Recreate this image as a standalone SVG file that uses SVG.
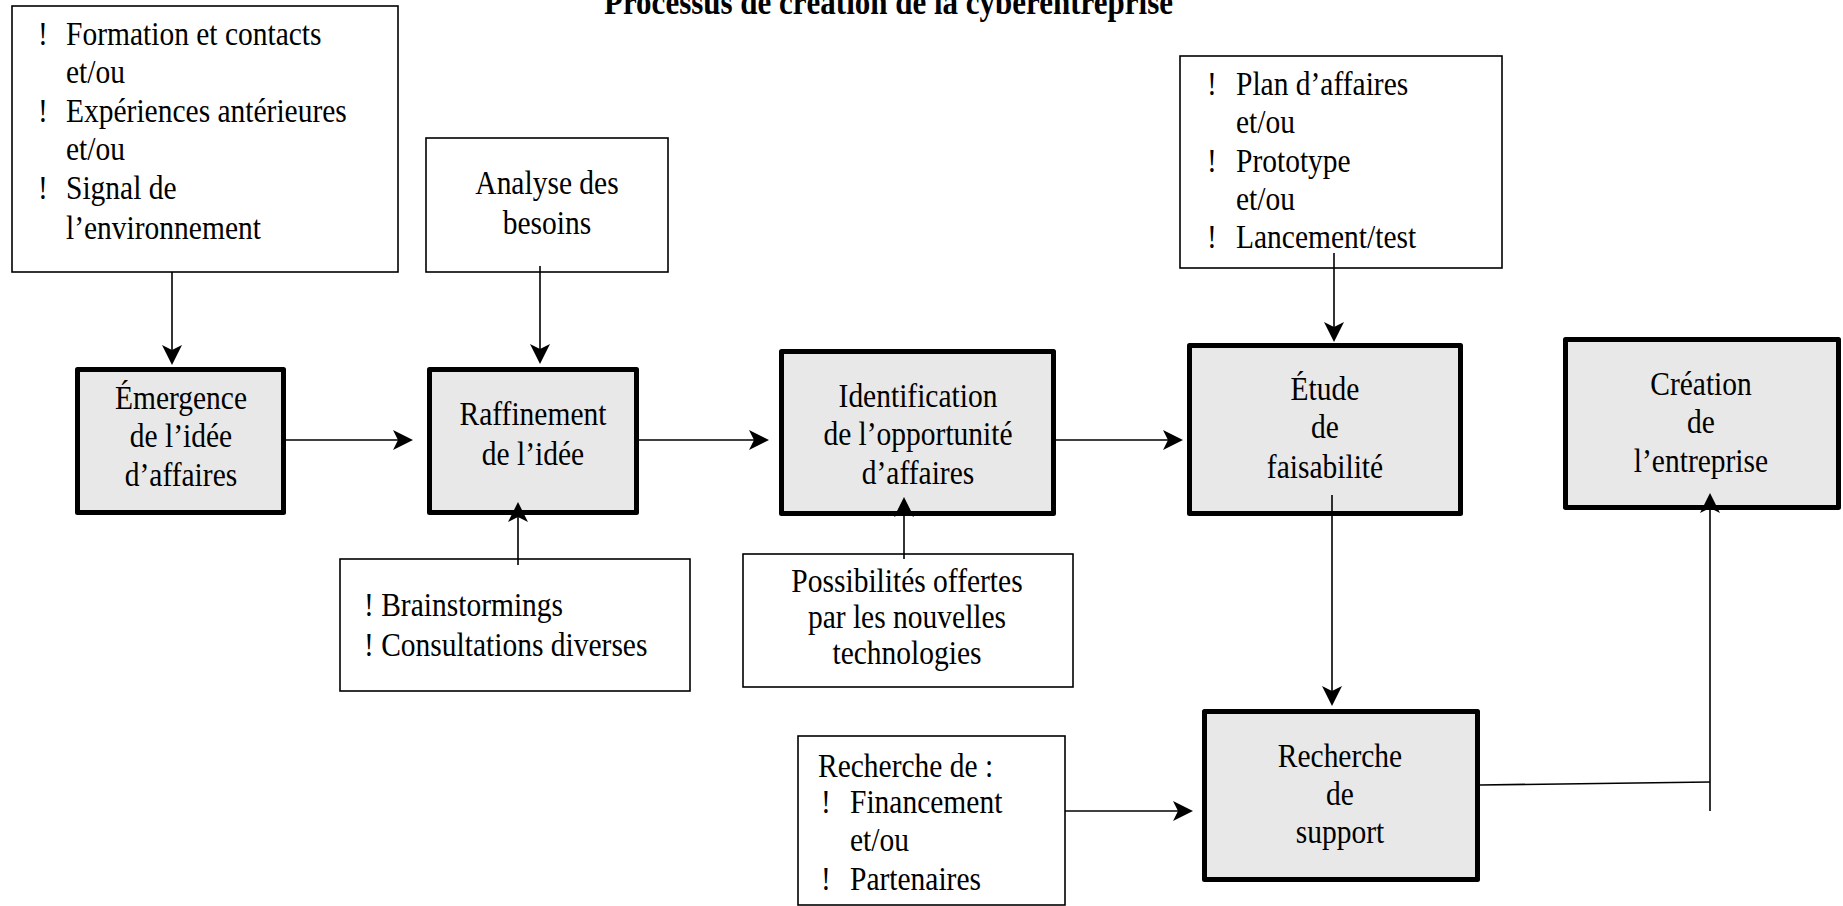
<svg xmlns="http://www.w3.org/2000/svg" width="1843" height="906" viewBox="0 0 1843 906">
<style>
.t{font-family:"Liberation Serif","Times New Roman",serif;font-size:29.5px;fill:#000}
.c{text-anchor:middle}
.title{font-weight:bold;font-size:31px}
.note{fill:#fff;stroke:#000;stroke-width:1.6}
.step{fill:#e8e8e8;stroke:#000;stroke-width:5;stroke-linejoin:round}
.conn{stroke:#000;stroke-width:1.6;fill:none}
.arr{marker-end:url(#ah)}
</style>
<defs>
<marker id="ah" markerWidth="20" markerHeight="20" viewBox="0 0 20 20" refX="17" refY="10" orient="auto" markerUnits="userSpaceOnUse">
<path d="M0,0 L20,10 L0,20 L5,10 Z" fill="#000"/>
</marker>
</defs>
<rect width="1843" height="906" fill="#fff"/>
<text class="t title" x="604" transform="translate(0 14) scale(1 1.14)">Processus de création de la cyberentreprise</text>

<g id="sources">
<rect class="note" x="12" y="6" width="386" height="266"/>
<text class="t" x="38" transform="translate(0 45) scale(1 1.14)">!</text><text class="t" x="66" transform="translate(0 45) scale(1 1.14)">Formation et contacts</text>
<text class="t" x="66" transform="translate(0 83) scale(1 1.14)">et/ou</text>
<text class="t" x="38" transform="translate(0 122) scale(1 1.14)">!</text><text class="t" x="66" transform="translate(0 122) scale(1 1.14)">Expériences antérieures</text>
<text class="t" x="66" transform="translate(0 160) scale(1 1.14)">et/ou</text>
<text class="t" x="38" transform="translate(0 199) scale(1 1.14)">!</text><text class="t" x="66" transform="translate(0 199) scale(1 1.14)">Signal de</text>
<text class="t" x="66" transform="translate(0 239) scale(1 1.14)">l’environnement</text>
</g>

<g id="analyse">
<rect class="note" x="426" y="138" width="242" height="134"/>
<text class="t c" x="547" transform="translate(0 194) scale(1 1.14)">Analyse des</text>
<text class="t c" x="547" transform="translate(0 234) scale(1 1.14)">besoins</text>
</g>

<g id="plan">
<rect class="note" x="1180" y="56" width="322" height="212"/>
<text class="t" x="1207" transform="translate(0 95) scale(1 1.14)">!</text><text class="t" x="1236" transform="translate(0 95) scale(1 1.14)">Plan d’affaires</text>
<text class="t" x="1236" transform="translate(0 133) scale(1 1.14)">et/ou</text>
<text class="t" x="1207" transform="translate(0 172) scale(1 1.14)">!</text><text class="t" x="1236" transform="translate(0 172) scale(1 1.14)">Prototype</text>
<text class="t" x="1236" transform="translate(0 210) scale(1 1.14)">et/ou</text>
<text class="t" x="1207" transform="translate(0 248) scale(1 1.14)">!</text><text class="t" x="1236" transform="translate(0 248) scale(1 1.14)">Lancement/test</text>
</g>

<g id="emergence">
<rect class="step" x="77.5" y="369.5" width="206" height="143"/>
<text class="t c" x="181" transform="translate(0 409) scale(1 1.14)">Émergence</text>
<text class="t c" x="181" transform="translate(0 447) scale(1 1.14)">de l’idée</text>
<text class="t c" x="181" transform="translate(0 486) scale(1 1.14)">d’affaires</text>
</g>

<g id="raffinement">
<rect class="step" x="429.5" y="369.5" width="207" height="143"/>
<text class="t c" x="533" transform="translate(0 425) scale(1 1.14)">Raffinement</text>
<text class="t c" x="533" transform="translate(0 465) scale(1 1.14)">de l’idée</text>
</g>

<g id="identification">
<rect class="step" x="781.5" y="351.5" width="272" height="162"/>
<text class="t c" x="918" transform="translate(0 407) scale(1 1.14)">Identification</text>
<text class="t c" x="918" transform="translate(0 445) scale(1 1.14)">de l’opportunité</text>
<text class="t c" x="918" transform="translate(0 484) scale(1 1.14)">d’affaires</text>
</g>

<g id="etude">
<rect class="step" x="1189.5" y="345.5" width="271" height="168"/>
<text class="t c" x="1325" transform="translate(0 400) scale(1 1.14)">Étude</text>
<text class="t c" x="1325" transform="translate(0 438) scale(1 1.14)">de</text>
<text class="t c" x="1325" transform="translate(0 478) scale(1 1.14)">faisabilité</text>
</g>

<g id="creation">
<rect class="step" x="1565.5" y="339.5" width="273" height="168"/>
<text class="t c" x="1701" transform="translate(0 395) scale(1 1.14)">Création</text>
<text class="t c" x="1701" transform="translate(0 433) scale(1 1.14)">de</text>
<text class="t c" x="1701" transform="translate(0 472) scale(1 1.14)">l’entreprise</text>
</g>

<g id="support">
<rect class="step" x="1204.5" y="711.5" width="273" height="168"/>
<text class="t c" x="1340" transform="translate(0 767) scale(1 1.14)">Recherche</text>
<text class="t c" x="1340" transform="translate(0 805) scale(1 1.14)">de</text>
<text class="t c" x="1340" transform="translate(0 843) scale(1 1.14)">support</text>
</g>

<g id="brainstorm">
<rect class="note" x="340" y="559" width="350" height="132"/>
<text class="t" x="364" transform="translate(0 616) scale(1 1.14)">! Brainstormings</text>
<text class="t" x="364" transform="translate(0 656) scale(1 1.14)">! Consultations diverses</text>
</g>

<g id="possibilites">
<rect class="note" x="743" y="554" width="330" height="133"/>
<text class="t c" x="907" transform="translate(0 592) scale(1 1.14)">Possibilités offertes</text>
<text class="t c" x="907" transform="translate(0 628) scale(1 1.14)">par les nouvelles</text>
<text class="t c" x="907" transform="translate(0 664) scale(1 1.14)">technologies</text>
</g>

<g id="recherche-de">
<rect class="note" x="798" y="736" width="267" height="169"/>
<text class="t" x="818" transform="translate(0 777) scale(1 1.14)">Recherche de :</text>
<text class="t" x="821" transform="translate(0 813) scale(1 1.14)">!</text><text class="t" x="850" transform="translate(0 813) scale(1 1.14)">Financement</text>
<text class="t" x="850" transform="translate(0 851) scale(1 1.14)">et/ou</text>
<text class="t" x="821" transform="translate(0 890) scale(1 1.14)">!</text><text class="t" x="850" transform="translate(0 890) scale(1 1.14)">Partenaires</text>
</g>

<g id="connectors">
<line class="conn arr" x1="172" y1="272" x2="172" y2="362"/>
<line class="conn arr" x1="540" y1="266" x2="540" y2="361"/>
<line class="conn arr" x1="1334" y1="253" x2="1334" y2="339"/>
<line class="conn arr" x1="286" y1="440" x2="410" y2="440"/>
<line class="conn arr" x1="639" y1="440" x2="766" y2="440"/>
<line class="conn arr" x1="1056" y1="440" x2="1180" y2="440"/>
<line class="conn arr" x1="518" y1="565" x2="518" y2="505"/>
<line class="conn arr" x1="904" y1="559" x2="904" y2="500"/>
<line class="conn arr" x1="1332" y1="495" x2="1332" y2="703"/>
<line class="conn arr" x1="1065" y1="811" x2="1190" y2="811"/>
<line class="conn" x1="1480" y1="785" x2="1710" y2="782"/>
<line class="conn arr" x1="1710" y1="811" x2="1710" y2="496"/>
</g>
</svg>
